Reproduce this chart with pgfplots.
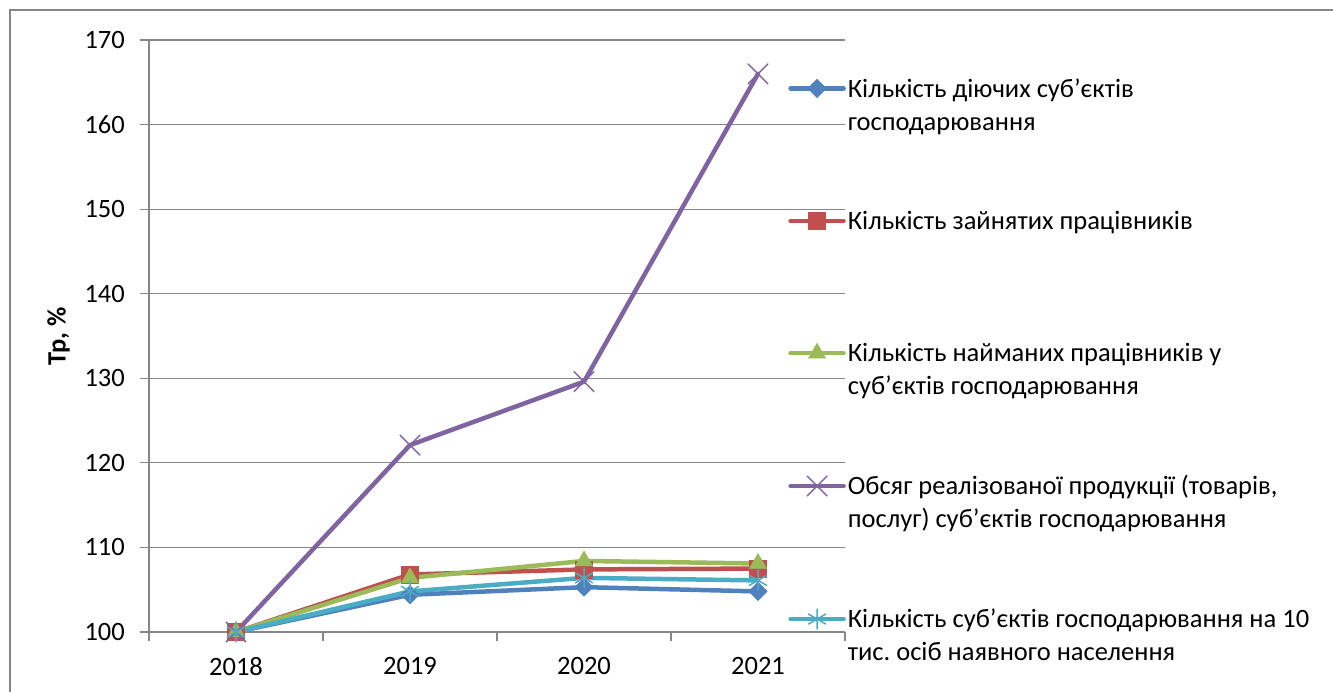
\documentclass[border=0pt]{standalone}
\usepackage{fontspec}
\setmainfont{Carlito}
\usepackage{pgfplots}
\pgfplotsset{compat=1.18}
\definecolor{cblue}{HTML}{4F81BD}
\definecolor{cred}{HTML}{C0504D}
\definecolor{cgreen}{HTML}{9BBB59}
\definecolor{cpurple}{HTML}{8064A2}
\definecolor{ccyan}{HTML}{4BACC6}
\definecolor{axgray}{HTML}{868686}
\newcommand{\lent}[1]{\parbox[t]{480pt}{\frenchspacing #1}}
\begin{document}
\begin{tikzpicture}[font=\fontsize{26.5}{33}\selectfont]
\useasboundingbox (0,0) rectangle (1333pt,692pt);
\draw[color=axgray, line width=1.5pt] (10pt,0pt) -- (10pt,682pt) -- (1333pt,682pt);
\begin{axis}[
  at={(149pt,60pt)}, anchor=south west,
  scale only axis, width=696pt, height=592pt,
  xmin=-0.5, xmax=3.5, ymin=100, ymax=170,
  xtick={-0.5,0.5,1.5,2.5,3.5}, xticklabels={},
  extra x ticks={0,1,2,3}, extra x tick labels={2018,2019,2020,2021},
  extra x tick style={major tick length=0pt, grid=none},
  ytick={100,110,...,170},
  axis x line*=bottom, axis y line*=left,
  axis line style={draw=axgray, line width=1.2pt},
  tick style={draw=axgray, line width=1.2pt},
  tick align=outside, major tick length=9pt,
  ymajorgrids, grid style={draw=axgray, line width=1.2pt},
  /pgf/number format/assume math mode=true,
  yticklabel style={inner sep=0pt, xshift=-15pt},
  xticklabel style={inner sep=0pt, yshift=-25pt},
  legend cell align=left,
  legend style={at={(0.914,0.939)}, anchor=north west, draw=none, fill=none,
    row sep=112.5pt, column sep=2pt, nodes={inner sep=0pt}},
  legend image code/.code={\draw[mark repeat=2,mark phase=2,#1] plot coordinates {(0pt,0pt) (26.5pt,0pt) (53pt,0pt)};},
  every axis plot/.append style={line width=4.5pt, line join=round, line cap=round},
]
\addplot[cblue, mark=square*, mark size=6.5pt, mark options={rotate=45, solid, line width=0.5pt, fill=cblue}]
  coordinates {(0,100) (1,104.4) (2,105.3) (3,104.8)};
\addlegendentry{\lent{Кількість діючих суб’єктів\\господарювання}}
\addplot[cred, mark=square*, mark size=8.5pt, mark options={solid, line width=0.5pt, fill=cred}]
  coordinates {(0,100) (1,106.8) (2,107.4) (3,107.5)};
\addlegendentry{\lent{Кількість зайнятих працівників}}
\addplot[cgreen, mark=triangle*, mark size=10pt, mark options={solid, line width=0.5pt, fill=cgreen}]
  coordinates {(0,100) (1,106.4) (2,108.4) (3,108.1)};
\addlegendentry{\lent{Кількість найманих працівників у\\суб’єктів господарювання}}
\addplot[cpurple, mark=x, mark size=14pt, mark options={solid, line width=1.5pt}]
  coordinates {(0,100) (1,122.1) (2,129.6) (3,166.0)};
\addlegendentry{\lent{Обсяг реалізованої продукції (товарів,\\послуг) суб’єктів господарювання}}
\addplot[ccyan, mark=asterisk, mark size=10pt, mark options={solid, line width=1.5pt}]
  coordinates {(0,100) (1,104.8) (2,106.4) (3,106.1)};
\addlegendentry{\lent{Кількість суб’єктів господарювання на 10\\тис. осіб наявного населення}}
\end{axis}
\node[rotate=90, font=\fontsize{26.5}{33}\selectfont\bfseries] at (58.5pt,356pt) {Тр, \%};
\end{tikzpicture}
\end{document}
